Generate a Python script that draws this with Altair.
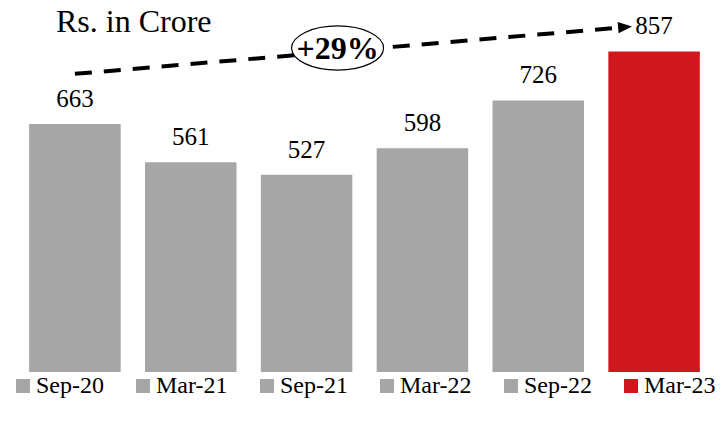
import altair as alt
import pandas as pd

# ---- data ----
periods = ["Sep-20", "Mar-21", "Sep-21", "Mar-22", "Sep-22", "Mar-23"]
values = [663, 561, 527, 598, 726, 857]
bar_colors = ["#A6A6A6", "#A6A6A6", "#A6A6A6", "#A6A6A6", "#A6A6A6", "#CE181E"]

unit_title = ["Rs. in Crore"]
growth_label = ["+29%"]
arrow_from = ["Sep-20"]
arrow_to = ["Mar-23"]
arrow_start_value = [797]
arrow_end_value = [922]
badge_period = ["Sep-21"]
badge_value = [866]

FONT = "'Times New Roman', 'Liberation Serif', Times, serif"

df = pd.DataFrame({"period": periods, "value": values})
arrow_df = pd.DataFrame({"from": arrow_from, "to": arrow_to,
                         "v1": arrow_start_value, "v2": arrow_end_value})
head_df = pd.DataFrame({"period": arrow_to, "value": arrow_end_value})
badge_df = pd.DataFrame({"period": badge_period, "value": badge_value, "label": growth_label})
title_df = pd.DataFrame({"label": unit_title})

xscale = alt.Scale(domain=periods, paddingInner=0.21, paddingOuter=0.105)
yscale = alt.Scale(domain=[0, 973])

x = alt.X("period:N", scale=xscale, axis=None)
y = alt.Y("value:Q", scale=yscale, axis=None)

bars = alt.Chart(df).mark_bar().encode(
    x=x,
    y=y,
    color=alt.Color(
        "period:N",
        scale=alt.Scale(domain=periods, range=bar_colors),
        legend=alt.Legend(
            orient="none", legendX=-6, legendY=366, direction="horizontal",
            title=None, symbolType="square", symbolSize=196, symbolStrokeWidth=0,
            symbolOpacity=1, labelFont=FONT, labelFontSize=24, labelColor="black",
            labelOffset=1, columnPadding=27, labelLimit=0,
        ),
    ),
)

labels = alt.Chart(df).mark_text(
    font=FONT, fontSize=25, color="black", baseline="alphabetic", dy=-17
).encode(x=x, y=y, text="value:Q")

arrow = alt.Chart(arrow_df).mark_rule(
    color="black", strokeWidth=4, strokeDash=[17, 12], x2Offset=-28
).encode(
    x=alt.X("from:N", scale=xscale, axis=None),
    x2="to:N",
    y=alt.Y("v1:Q", scale=yscale, axis=None),
    y2="v2:Q",
)

head = alt.Chart(head_df).mark_point(
    shape="M -1 -0.8 L 1 0 L -1 0.8 Z", filled=True, color="black", opacity=1,
    size=196, angle=355, xOffset=-29
).encode(x=x, y=y)

badge = alt.Chart(badge_df).mark_point(
    shape="M -1 0 A 1 0.48 0 1 0 1 0 A 1 0.48 0 1 0 -1 0",
    filled=False, fill="white", fillOpacity=1, stroke="black", strokeWidth=1.2,
    opacity=1, size=8464, xOffset=31
).encode(x=x, y=y)

badge_text = alt.Chart(badge_df).mark_text(
    font=FONT, fontSize=32, fontWeight="bold", color="black",
    baseline="middle", xOffset=31, dy=1
).encode(x=x, y=y, text="label:N")

title_text = alt.Chart(title_df).mark_text(
    font=FONT, fontSize=32, color="black", align="left", baseline="alphabetic"
).encode(x=alt.value(39), y=alt.value(24), text="label:N")

chart = alt.layer(bars, labels, arrow, head, badge, badge_text, title_text).properties(
    width=695,
    height=364,
    autosize=alt.AutoSizeParams(type="none"),
    padding={"left": 9, "top": 0, "right": 6, "bottom": 54},
).configure_view(stroke=None)

chart.save("out.html", embed_options={"renderer": "svg", "actions": False})
